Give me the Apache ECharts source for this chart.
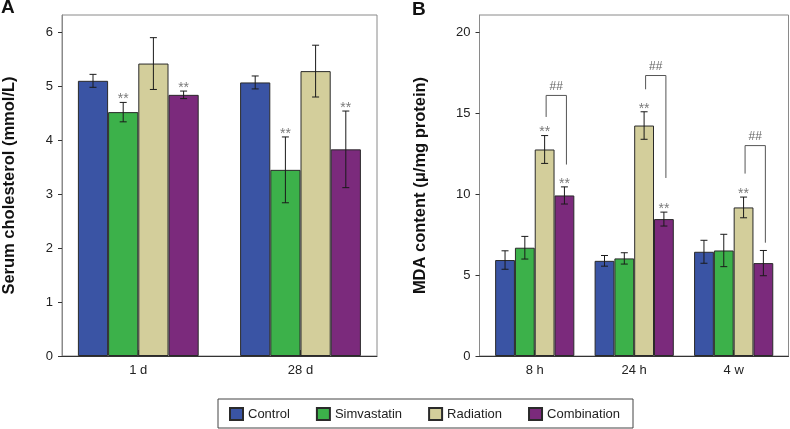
<!DOCTYPE html>
<html>
<head>
<meta charset="utf-8">
<script src="https://cdn.jsdelivr.net/npm/echarts@6/dist/echarts.min.js"></script>
<style>html,body{margin:0;padding:0;background:#fff}#c{width:790px;height:429px}</style>
</head>
<body>
<div id="c"></div>
<script>
// ---------- Data ----------
var seriesNames = ['Control', 'Simvastatin', 'Radiation', 'Combination'];

// Panel A: serum cholesterol
var categoriesA = ['1 d', '28 d'];
var controlA = [5.10, 5.07];
var controlErrA = [0.12, 0.12];
var simvastatinA = [4.52, 3.45];
var simvastatinErrA = [0.18, 0.61];
var radiationA = [5.42, 5.28];
var radiationErrA = [0.48, 0.48];
var combinationA = [4.84, 3.83];
var combinationErrA = [0.07, 0.71];
var sigA = [[], ['**', '**'], [], ['**', '**']];
var ticksA = [0, 1, 2, 3, 4, 5, 6];

// Panel B: MDA content
var categoriesB = ['8 h', '24 h', '4 w'];
var controlB = [5.93, 5.88, 6.44];
var controlErrB = [0.57, 0.33, 0.71];
var simvastatinB = [6.69, 6.03, 6.52];
var simvastatinErrB = [0.70, 0.35, 1.00];
var radiationB = [12.76, 14.24, 9.18];
var radiationErrB = [0.86, 0.85, 0.64];
var combinationB = [9.92, 8.46, 5.74];
var combinationErrB = [0.53, 0.43, 0.78];
var sigB = [[], [], ['**', '**', '**'], ['**', '**', '']];
var ticksB = [0, 5, 10, 15, 20];
// ## brackets between Radiation and Combination
var bracketTopB = [16.1, 17.33, 13.0];
var bracketLeftEndB = [14.77, 16.48, 11.27];
var bracketRightEndB = [11.83, 11.0, 7.0];
var bracketLabelB = ['##', '##', '##'];

// ---------- Style ----------
var colors = ['#3A54A4', '#3CB14A', '#D3CE9B', '#7B2A7C'];
var FONT = 'Liberation Sans, Arial, sans-serif';
var barWA = 30.2, barWB = 19.8;

var chart = echarts.init(document.getElementById('c'), null, {renderer: 'canvas'});

function barSeries(name, idx, data, axisIdx, w) {
  return {
    name: name, type: 'bar', xAxisIndex: axisIdx, yAxisIndex: axisIdx,
    data: data, barWidth: w, barGap: '0%',
    itemStyle: {color: colors[idx], borderColor: '#2a2a2a', borderWidth: 1},
    emphasis: {disabled: true}, animation: false, z: 2
  };
}

function errSeries(vals, errs, sig, idx, axisIdx, w) {
  return {
    type: 'custom', xAxisIndex: axisIdx, yAxisIndex: axisIdx, z: 5, animation: false,
    silent: true,
    data: vals.map(function (v, k) { return [k, v, errs[k]]; }),
    renderItem: function (params, api) {
      var c = api.value(0), v = api.value(1), e = api.value(2);
      var top = api.coord([c, v + e]);
      var bot = api.coord([c, v - e]);
      var x = top[0] + (idx - 1.5) * w;
      var hw = 3.5;
      var st = {stroke: '#1a1a1a', lineWidth: 1};
      var children = [
        {type: 'line', shape: {x1: x, y1: top[1], x2: x, y2: bot[1]}, style: st},
        {type: 'line', shape: {x1: x - hw, y1: top[1], x2: x + hw, y2: top[1]}, style: st},
        {type: 'line', shape: {x1: x - hw, y1: bot[1], x2: x + hw, y2: bot[1]}, style: st}
      ];
      var s = sig[params.dataIndex];
      if (s) {
        children.push({type: 'text', style: {text: s, x: x, y: top[1] - 3, align: 'center',
          verticalAlign: 'middle', fill: '#7a7a7a', fontSize: 14, fontFamily: FONT}});
      }
      return {type: 'group', children: children};
    }
  };
}

var bracketSeries = {
  type: 'custom', xAxisIndex: 3, yAxisIndex: 3, z: 6, animation: false, silent: true,
  data: bracketTopB.map(function (t, k) { return [k, t, bracketLeftEndB[k], bracketRightEndB[k]]; }),
  renderItem: function (params, api) {
    var c = api.value(0);
    var pt = api.coord([c, api.value(1)]);
    var pl = api.coord([c, api.value(2)]);
    var pr = api.coord([c, api.value(3)]);
    var xl = pt[0] + 0.5 * barWB + 1.5;
    var xr = pt[0] + 1.5 * barWB + 2;
    return {type: 'group', children: [
      {type: 'polyline', shape: {points: [[xl, pl[1]], [xl, pt[1]], [xr, pt[1]], [xr, pr[1]]]},
        style: {stroke: '#555', lineWidth: 1, fill: null}},
      {type: 'text', style: {text: bracketLabelB[params.dataIndex], x: (xl + xr) / 2, y: pt[1] - 9,
        align: 'center', verticalAlign: 'middle', fill: '#666', fontSize: 12, fontFamily: FONT}}
    ]};
  }
};

function boxYAxis(gridIdx, max, ticks, name, gap) {
  return {
    type: 'value', gridIndex: gridIdx, min: 0, max: max,
    name: name, nameLocation: 'middle', nameGap: gap,
    nameTextStyle: {fontSize: 16.5, fontWeight: 'bold', color: '#111', fontFamily: FONT},
    axisLine: {show: true, lineStyle: {color: '#8a8a8a', width: 1}},
    axisTick: {show: true, length: 4, customValues: ticks, lineStyle: {color: '#333'}},
    axisLabel: {customValues: ticks, margin: 9, fontSize: 13, color: '#222', fontFamily: FONT},
    splitLine: {show: false}
  };
}
function hiddenY(gridIdx, max) {
  return {type: 'value', gridIndex: gridIdx, min: 0, max: max, show: false, splitLine: {show: false}};
}
function boxX(gridIdx) {
  return {type: 'value', gridIndex: gridIdx, min: 0, max: 1,
    axisLine: {show: true, onZero: false, lineStyle: {color: '#333', width: 1}},
    axisTick: {show: false}, axisLabel: {show: false}, splitLine: {show: false}};
}
function dataX(gridIdx, cats) {
  return {type: 'category', gridIndex: gridIdx, data: cats,
    axisLine: {show: false},
    axisTick: {show: true, inside: true, length: 6, alignWithLabel: true, lineStyle: {color: '#333'}},
    axisLabel: {margin: 8, fontSize: 13, color: '#222', fontFamily: FONT},
    splitLine: {show: false}};
}

var maxA = 6.32, maxB = 21.07;

var option = {
  backgroundColor: '#fff',
  animation: false,
  textStyle: {fontFamily: FONT},
  title: [
    {text: 'A', left: 1, top: -2, padding: 0, textStyle: {fontSize: 19, fontWeight: 'bold', color: '#111', fontFamily: FONT}},
    {text: 'B', left: 412, top: 0, padding: 0, textStyle: {fontSize: 19, fontWeight: 'bold', color: '#111', fontFamily: FONT}}
  ],
  grid: [
    {left: 62, top: 15, width: 315, height: 341, show: true, borderColor: '#8a8a8a', borderWidth: 1, backgroundColor: 'transparent'},
    {left: 57.2, top: 15, width: 324.4, height: 341},
    {left: 479.5, top: 15, width: 309, height: 341, show: true, borderColor: '#8a8a8a', borderWidth: 1, backgroundColor: 'transparent'},
    {left: 485, top: 15, width: 298.4, height: 341}
  ],
  xAxis: [boxX(0), dataX(1, categoriesA), boxX(2), dataX(3, categoriesB)],
  yAxis: [
    boxYAxis(0, maxA, ticksA, 'Serum cholesterol (mmol/L)', 44),
    hiddenY(1, maxA),
    boxYAxis(2, maxB, ticksB, 'MDA content (\u03bc/mg protein)', 51),
    hiddenY(3, maxB)
  ],
  legend: {
    data: seriesNames, left: 218, top: 399,
    orient: 'horizontal', icon: 'rect', itemWidth: 13, itemHeight: 12, itemGap: 26,
    padding: [8, 13, 7, 11], borderColor: '#444', borderWidth: 1,
    textStyle: {fontSize: 13, color: '#222', fontFamily: FONT},
    selectedMode: false
  },
  series: [
    barSeries(seriesNames[0], 0, controlA, 1, barWA),
    barSeries(seriesNames[1], 1, simvastatinA, 1, barWA),
    barSeries(seriesNames[2], 2, radiationA, 1, barWA),
    barSeries(seriesNames[3], 3, combinationA, 1, barWA),
    errSeries(controlA, controlErrA, sigA[0], 0, 1, barWA),
    errSeries(simvastatinA, simvastatinErrA, sigA[1], 1, 1, barWA),
    errSeries(radiationA, radiationErrA, sigA[2], 2, 1, barWA),
    errSeries(combinationA, combinationErrA, sigA[3], 3, 1, barWA),
    barSeries(seriesNames[0], 0, controlB, 3, barWB),
    barSeries(seriesNames[1], 1, simvastatinB, 3, barWB),
    barSeries(seriesNames[2], 2, radiationB, 3, barWB),
    barSeries(seriesNames[3], 3, combinationB, 3, barWB),
    errSeries(controlB, controlErrB, sigB[0], 0, 3, barWB),
    errSeries(simvastatinB, simvastatinErrB, sigB[1], 1, 3, barWB),
    errSeries(radiationB, radiationErrB, sigB[2], 2, 3, barWB),
    errSeries(combinationB, combinationErrB, sigB[3], 3, 3, barWB),
    bracketSeries
  ]
};
chart.setOption(option);
</script>
</body>
</html>
